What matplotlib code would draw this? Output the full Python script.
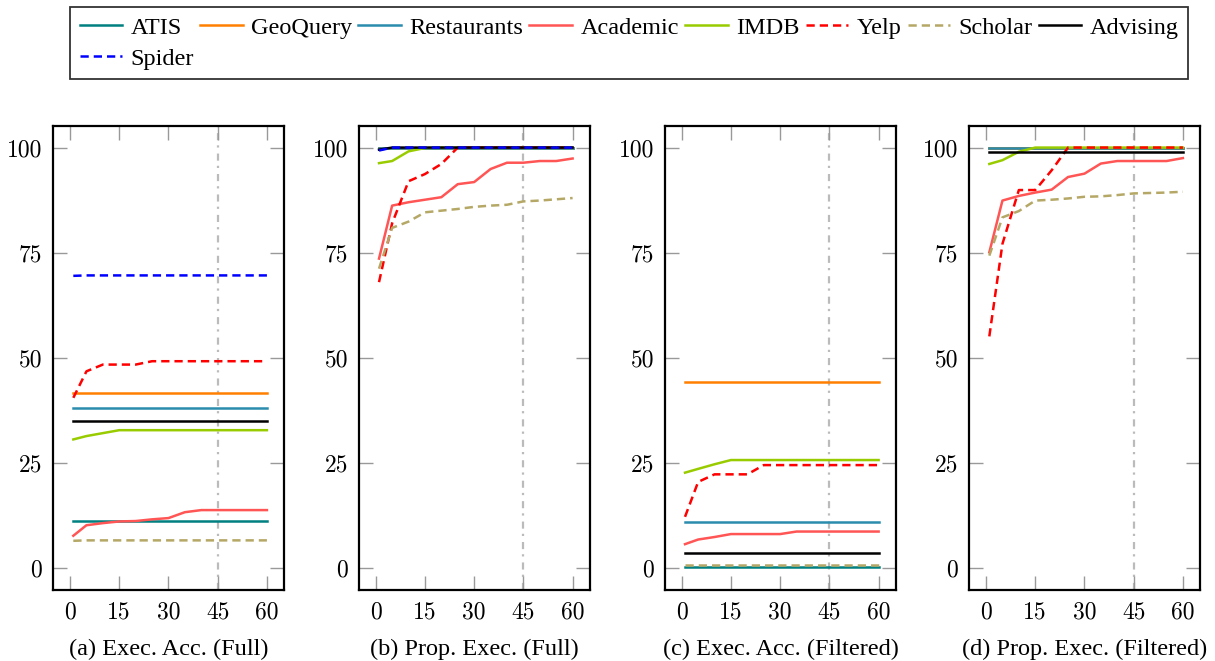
from matplotlib import pyplot as plt

steps = [1, 5, 10, 15, 20, 25, 30, 35, 40, 45, 50, 55, 60]
names = ["ATIS", "GeoQuery", "Restaurants", "Academic", "IMDB", "Yelp", "Scholar", "Advising", "Spider"]
captions = ["(a) Exec. Acc. (Full)", "(b) Prop. Exec. (Full)",
            "(c) Exec. Acc. (Filtered)", "(d) Prop. Exec. (Filtered)"]

# (a) execution accuracy, full
exec_full = {
    "ATIS": [11.3] * 13,
    "GeoQuery": [41.6] * 13,
    "Restaurants": [38.1] * 13,
    "Academic": [7.7, 10.2, 10.7, 11.1, 11.2, 11.6, 11.9, 13.3, 13.8, 13.8, 13.8, 13.8, 13.8],
    "IMDB": [30.6, 31.4, 32.1, 32.8, 32.8, 32.8, 32.8, 32.8, 32.8, 32.8, 32.8, 32.8, 32.8],
    "Yelp": [40.5, 46.8, 48.4, 48.4, 48.4, 49.2, 49.2, 49.2, 49.2, 49.2, 49.2, 49.2, 49.2],
    "Scholar": [6.5, 6.6, 6.6, 6.6, 6.6, 6.6, 6.6, 6.6, 6.6, 6.6, 6.6, 6.6, 6.6],
    "Advising": [35.0] * 13,
    "Spider": [69.5, 69.6, 69.6, 69.6, 69.6, 69.6, 69.6, 69.6, 69.6, 69.6, 69.6, 69.6, 69.6],
}

# (b) proportion executable, full
prop_full = {
    "ATIS": [100] * 13,
    "GeoQuery": [100] * 13,
    "Restaurants": [100] * 13,
    "Academic": [73.6, 86.2, 87.0, 87.6, 88.2, 91.3, 91.8, 94.9, 96.4, 96.4, 96.8, 96.8, 97.4],
    "IMDB": [96.3, 96.8, 99.1, 99.9, 100, 100, 100, 100, 100, 100, 100, 100, 100],
    "Yelp": [68.0, 82.0, 92.0, 93.7, 96.1, 100, 100, 100, 100, 100, 100, 100, 100],
    "Scholar": [71.2, 80.9, 82.4, 84.6, 85.0, 85.4, 85.9, 86.2, 86.4, 87.2, 87.4, 87.7, 88.0],
    "Advising": [99.5, 100, 100, 100, 100, 100, 100, 100, 100, 100, 100, 100, 100],
    "Spider": [99.3, 100, 100, 100, 100, 100, 100, 100, 100, 100, 100, 100, 100],
}

# (c) execution accuracy, filtered (no Spider)
exec_filt = {
    "ATIS": [0.3] * 13,
    "GeoQuery": [44.3] * 13,
    "Restaurants": [11.0] * 13,
    "Academic": [5.7, 6.8, 7.4, 8.1, 8.1, 8.1, 8.1, 8.7, 8.7, 8.7, 8.7, 8.7, 8.7],
    "IMDB": [22.7, 23.6, 24.7, 25.7, 25.7, 25.7, 25.7, 25.7, 25.7, 25.7, 25.7, 25.7, 25.7],
    "Yelp": [12.2, 20.5, 22.3, 22.3, 22.3, 24.5, 24.5, 24.5, 24.5, 24.5, 24.5, 24.5, 24.5],
    "Scholar": [0.7] * 13,
    "Advising": [3.6] * 13,
}

# (d) proportion executable, filtered (no Spider)
prop_filt = {
    "ATIS": [100] * 13,
    "GeoQuery": [100] * 13,
    "Restaurants": [100] * 13,
    "Academic": [75.1, 87.4, 88.5, 89.3, 90.0, 93.0, 93.8, 96.2, 96.8, 96.8, 96.8, 96.8, 97.5],
    "IMDB": [96.1, 97.0, 99.0, 100, 100, 100, 100, 100, 100, 100, 100, 100, 100],
    "Yelp": [55.1, 77.1, 89.9, 89.9, 94.6, 100, 100, 100, 100, 100, 100, 100, 100],
    "Scholar": [74.3, 83.4, 84.9, 87.4, 87.6, 87.9, 88.3, 88.4, 88.7, 89.1, 89.2, 89.3, 89.5],
    "Advising": [99.0] * 13,
}

colors = {"ATIS": "#008080", "GeoQuery": "#ff8000", "Restaurants": "#2b8cae",
          "Academic": "#ff5555", "IMDB": "#99cc00", "Yelp": "#ff0000",
          "Scholar": "#b5a866", "Advising": "#000000", "Spider": "#0000ff"}
dashed = ["Yelp", "Scholar", "Spider"]

serif = "Liberation Serif"
fig = plt.figure(figsize=(12.15, 6.61), dpi=100)

lefts = [53.3, 359, 665, 969.3]
handles = {}
for i, data in enumerate([exec_full, prop_full, exec_filt, prop_filt]):
    ax = fig.add_axes([lefts[i] / 1215, 71 / 661, 231 / 1215, 464.3 / 661])
    ax.axvline(45, color="#bbbbbb", lw=1.6, dashes=(3.2, 2.7, 1, 2.3), zorder=0)
    for n in names:
        if n not in data:
            continue
        if n in dashed:
            ln, = ax.plot(steps, data[n], color=colors[n], lw=1.8, dashes=(3.3, 2.0))
        else:
            ln, = ax.plot(steps, data[n], color=colors[n], lw=1.8)
        handles[n] = ln
    ax.set_xlim(-5.1, 65.3)
    ax.set_ylim(-5.2, 105.2)
    ax.set_xticks([0, 15, 30, 45, 60])
    ax.set_yticks([0, 25, 50, 75, 100])
    ax.tick_params(direction="in", length=10, width=1, color="#999999",
                   top=True, right=True, labelsize=17, pad=8, labelfontfamily="cmr10")
    for s in ax.spines.values():
        s.set_linewidth(1.6)
    ax.text(0.5, -0.127, captions[i], transform=ax.transAxes, ha="center", va="center",
            fontsize=17.5, family=serif)

# row-wise legend: matplotlib fills columns, so Spider goes second
order = ["ATIS", "Spider", "GeoQuery", "Restaurants", "Academic", "IMDB", "Yelp", "Scholar", "Advising"]
leg = fig.legend([handles[n] for n in order], order, loc="upper left",
                 bbox_to_anchor=(70 / 1215, 1 - 7 / 661), ncol=8, frameon=True, fancybox=False,
                 edgecolor="black", prop={"family": serif, "size": 17.5},
                 handlelength=1.75, handletextpad=0.35, columnspacing=0.25,
                 labelspacing=0.36, borderpad=0.4, borderaxespad=0)
leg.get_frame().set_linewidth(1.3)

fig.savefig("out.png", dpi=100)
